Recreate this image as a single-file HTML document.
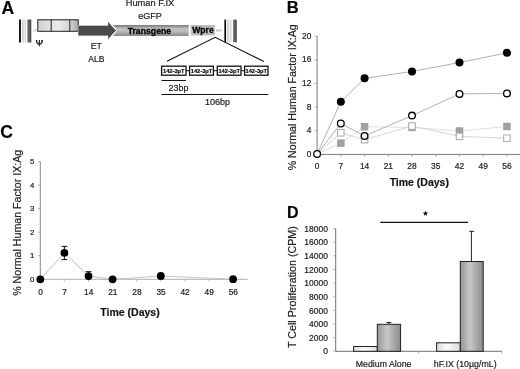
<!DOCTYPE html><html><head><meta charset="utf-8"><style>html,body{margin:0;padding:0;background:#fff;}svg{display:block;filter:grayscale(1);}text{font-family:"Liberation Sans",sans-serif;}text:not([stroke]){stroke:#222;stroke-width:.2px;}</style></head><body>
<svg width="520" height="369" viewBox="0 0 520 369">
<defs>
<linearGradient id="ltrL" x1="0" y1="0" x2="1" y2="0"><stop offset="0" stop-color="#c2c2c2"/><stop offset="0.55" stop-color="#ececec"/><stop offset="1" stop-color="#d4d4d4"/></linearGradient>
<linearGradient id="ltrD" x1="0" y1="0" x2="1" y2="0"><stop offset="0" stop-color="#8a8a8a"/><stop offset="0.45" stop-color="#606060"/><stop offset="1" stop-color="#474747"/></linearGradient>
<linearGradient id="box" x1="0" y1="0" x2="1" y2="0"><stop offset="0" stop-color="#d2d2d2"/><stop offset="0.5" stop-color="#e9e9e9"/><stop offset="0.8" stop-color="#d4d4d4"/><stop offset="1" stop-color="#a8a8a8"/></linearGradient>
<linearGradient id="tg" x1="0" y1="0" x2="0" y2="1"><stop offset="0" stop-color="#7a7a7a"/><stop offset="0.35" stop-color="#c4c4c4"/><stop offset="0.6" stop-color="#b8b8b8"/><stop offset="1" stop-color="#888"/></linearGradient>
<linearGradient id="wp" x1="0" y1="0" x2="0" y2="1"><stop offset="0" stop-color="#b0b0b0"/><stop offset="0.5" stop-color="#cfcfcf"/><stop offset="1" stop-color="#b5b5b5"/></linearGradient>
<linearGradient id="barG" x1="0" y1="0" x2="1" y2="0"><stop offset="0" stop-color="#959595"/><stop offset="0.42" stop-color="#c8c8c8"/><stop offset="1" stop-color="#8a8a8a"/></linearGradient>
<linearGradient id="barW" x1="0" y1="0" x2="1" y2="0"><stop offset="0" stop-color="#d8d8d8"/><stop offset="0.4" stop-color="#fbfbfb"/><stop offset="1" stop-color="#dcdcdc"/></linearGradient>
</defs>
<text x="1.5" y="13.8" font-size="17.5" font-weight="bold" fill="#000">A</text>
<rect x="19.1" y="19.5" width="1.8" height="23" fill="#000"/>
<rect x="22.2" y="19.5" width="3.8" height="23" fill="url(#ltrL)"/>
<rect x="27.2" y="19.5" width="4.1" height="23" fill="url(#ltrD)"/>
<rect x="33.3" y="29" width="3.5" height="2.8" fill="#ddd"/>
<rect x="37.8" y="19.8" width="40.5" height="11.5" fill="url(#box)" stroke="#222" stroke-width="1"/>
<line x1="51.2" y1="19.8" x2="51.2" y2="31.3" stroke="#222" stroke-width="1"/>
<line x1="69.8" y1="19.8" x2="69.8" y2="31.3" stroke="#222" stroke-width="1"/>
<polygon points="113.2,25.1 188.7,25.1 188.7,35.9 113.2,35.9 116.6,30.5" fill="url(#tg)"/>
<polygon points="78.3,25.7 107.6,25.7 107.6,20.8 116.4,30.5 107.6,40.3 107.6,35.6 78.3,35.6" fill="#4a4a4a" stroke="#fff" stroke-width="1" stroke-linejoin="miter"/>
<rect x="78.3" y="25.7" width="29.2" height="9.9" fill="#4a4a4a"/>
<text x="149.4" y="33.6" font-size="8.7" font-weight="bold" text-anchor="middle" fill="#000" stroke="#000" stroke-width="0.3">Transgene</text>
<rect x="190.5" y="25.2" width="24.5" height="10.2" fill="url(#wp)"/>
<text x="203" y="32.8" font-size="8.6" font-weight="bold" text-anchor="middle" fill="#000" stroke="#000" stroke-width="0.3">Wpre</text>
<rect x="215.8" y="29.2" width="6.1" height="2.5" fill="#d4d4d4"/>
<rect x="224.4" y="19.6" width="1.6" height="22.6" fill="#000"/>
<rect x="226.8" y="19.6" width="4.7" height="22.6" fill="url(#ltrL)"/>
<rect x="233" y="19.6" width="3.8" height="22.6" fill="url(#ltrD)"/>
<text x="150" y="6.4" font-size="9.3" text-anchor="middle" fill="#222">Human F.IX</text>
<text x="150" y="19.4" font-size="9" text-anchor="middle" fill="#222">eGFP</text>
<text x="96.2" y="49.2" font-size="8.6" text-anchor="middle" fill="#222">ET</text>
<text x="96.3" y="62.3" font-size="8.6" text-anchor="middle" fill="#222">ALB</text>
<path d="M36.4,40.2 C36.4,43.4 37.6,44.1 39.35,44.1 C41.1,44.1 42.3,43.4 42.3,40.2 M39.35,39.9 L39.35,46.3" stroke="#1a1a1a" stroke-width="1.15" fill="none"/>
<ellipse cx="36.7" cy="41" rx="0.75" ry="1.1" fill="#1a1a1a"/><ellipse cx="42" cy="41" rx="0.75" ry="1.1" fill="#1a1a1a"/>
<polyline points="167,61.3 215.2,37.3 263.8,61.5" fill="none" stroke="#111" stroke-width="1.1"/>
<rect x="161.6" y="66.2" width="24.4" height="9" fill="#fff" stroke="#111" stroke-width="1.3"/>
<text x="173.8" y="73.4" font-size="5.7" font-weight="bold" text-anchor="middle" fill="#000" stroke="#000" stroke-width="0.15">142-3pT</text>
<line x1="186" y1="70.7" x2="189.6" y2="70.7" stroke="#111" stroke-width="1"/>
<rect x="189.6" y="66.2" width="23.8" height="9" fill="#fff" stroke="#111" stroke-width="1.3"/>
<text x="201.5" y="73.4" font-size="5.7" font-weight="bold" text-anchor="middle" fill="#000" stroke="#000" stroke-width="0.15">142-3pT</text>
<line x1="213.4" y1="70.7" x2="217.3" y2="70.7" stroke="#111" stroke-width="1"/>
<rect x="217.3" y="66.2" width="23.7" height="9" fill="#fff" stroke="#111" stroke-width="1.3"/>
<text x="229.2" y="73.4" font-size="5.7" font-weight="bold" text-anchor="middle" fill="#000" stroke="#000" stroke-width="0.15">142-3pT</text>
<line x1="241" y1="70.7" x2="244.6" y2="70.7" stroke="#111" stroke-width="1"/>
<rect x="244.6" y="66.2" width="23.4" height="9" fill="#fff" stroke="#111" stroke-width="1.3"/>
<text x="256.3" y="73.4" font-size="5.7" font-weight="bold" text-anchor="middle" fill="#000" stroke="#000" stroke-width="0.15">142-3pT</text>
<line x1="161.5" y1="80.5" x2="186" y2="80.5" stroke="#111" stroke-width="1"/>
<text x="178.5" y="90.6" font-size="9" text-anchor="middle" fill="#222">23bp</text>
<line x1="161.5" y1="94.5" x2="268.3" y2="94.5" stroke="#111" stroke-width="1"/>
<text x="217.5" y="105" font-size="9" text-anchor="middle" fill="#222">106bp</text>
<text x="286.8" y="12.9" font-size="16.6" font-weight="bold" fill="#000">B</text>
<line x1="317.1" y1="36" x2="317.1" y2="154.4" stroke="#777" stroke-width="1"/>
<line x1="317.1" y1="154.4" x2="520" y2="154.4" stroke="#777" stroke-width="1"/>
<line x1="314.5" y1="154.40" x2="317.1" y2="154.40" stroke="#999" stroke-width="0.8"/>
<text x="311.3" y="156.80" font-size="8.3" text-anchor="end" fill="#222">0</text>
<line x1="314.5" y1="130.76" x2="317.1" y2="130.76" stroke="#999" stroke-width="0.8"/>
<text x="311.3" y="133.16" font-size="8.3" text-anchor="end" fill="#222">4</text>
<line x1="314.5" y1="107.12" x2="317.1" y2="107.12" stroke="#999" stroke-width="0.8"/>
<text x="311.3" y="109.52" font-size="8.3" text-anchor="end" fill="#222">8</text>
<line x1="314.5" y1="83.48" x2="317.1" y2="83.48" stroke="#999" stroke-width="0.8"/>
<text x="311.3" y="85.88" font-size="8.3" text-anchor="end" fill="#222">12</text>
<line x1="314.5" y1="59.84" x2="317.1" y2="59.84" stroke="#999" stroke-width="0.8"/>
<text x="311.3" y="62.24" font-size="8.3" text-anchor="end" fill="#222">16</text>
<line x1="314.5" y1="36.20" x2="317.1" y2="36.20" stroke="#999" stroke-width="0.8"/>
<text x="311.3" y="38.60" font-size="8.3" text-anchor="end" fill="#222">20</text>
<line x1="317.10" y1="154.4" x2="317.10" y2="156.8" stroke="#999" stroke-width="0.8"/>
<text x="317.10" y="169.2" font-size="8.4" text-anchor="middle" fill="#222">0</text>
<line x1="340.83" y1="154.4" x2="340.83" y2="156.8" stroke="#999" stroke-width="0.8"/>
<text x="340.83" y="169.2" font-size="8.4" text-anchor="middle" fill="#222">7</text>
<line x1="364.56" y1="154.4" x2="364.56" y2="156.8" stroke="#999" stroke-width="0.8"/>
<text x="364.56" y="169.2" font-size="8.4" text-anchor="middle" fill="#222">14</text>
<line x1="388.29" y1="154.4" x2="388.29" y2="156.8" stroke="#999" stroke-width="0.8"/>
<text x="388.29" y="169.2" font-size="8.4" text-anchor="middle" fill="#222">21</text>
<line x1="412.02" y1="154.4" x2="412.02" y2="156.8" stroke="#999" stroke-width="0.8"/>
<text x="412.02" y="169.2" font-size="8.4" text-anchor="middle" fill="#222">28</text>
<line x1="435.75" y1="154.4" x2="435.75" y2="156.8" stroke="#999" stroke-width="0.8"/>
<text x="435.75" y="169.2" font-size="8.4" text-anchor="middle" fill="#222">35</text>
<line x1="459.48" y1="154.4" x2="459.48" y2="156.8" stroke="#999" stroke-width="0.8"/>
<text x="459.48" y="169.2" font-size="8.4" text-anchor="middle" fill="#222">42</text>
<line x1="483.21" y1="154.4" x2="483.21" y2="156.8" stroke="#999" stroke-width="0.8"/>
<text x="483.21" y="169.2" font-size="8.4" text-anchor="middle" fill="#222">49</text>
<line x1="506.94" y1="154.4" x2="506.94" y2="156.8" stroke="#999" stroke-width="0.8"/>
<text x="506.94" y="169.2" font-size="8.4" text-anchor="middle" fill="#222">56</text>
<text x="419.3" y="185.6" font-size="10.5" font-weight="bold" text-anchor="middle" fill="#111">Time (Days)</text>
<text transform="translate(295.9,97.3) rotate(-90)" x="0" y="0" font-size="10.65" text-anchor="middle" fill="#222">% Normal Human Factor IX:Ag</text>
<polyline points="317.10,154.00 340.83,143.15 364.56,126.75 412.02,127.40 459.48,131.00 506.94,126.50" fill="none" stroke="#dedede" stroke-width="1"/>
<polyline points="317.10,154.00 340.83,132.85 364.56,139.70 412.02,126.05 459.48,136.40 506.94,138.20" fill="none" stroke="#d6d6d6" stroke-width="1"/>
<polyline points="317.10,154.00 340.83,123.55 364.56,136.00 412.02,115.60 459.48,93.90 506.94,93.40" fill="none" stroke="#b2b2b2" stroke-width="1"/>
<polyline points="317.10,154.00 340.83,101.85 364.56,78.30 412.02,71.50 459.48,62.50 506.94,52.85" fill="none" stroke="#b0b0b0" stroke-width="1"/>
<rect x="337.08" y="139.40" width="7.5" height="7.5" fill="#a0a0a0"/>
<rect x="360.81" y="123.00" width="7.5" height="7.5" fill="#a0a0a0"/>
<rect x="408.27" y="123.65" width="7.5" height="7.5" fill="#a0a0a0"/>
<rect x="455.73" y="127.25" width="7.5" height="7.5" fill="#a0a0a0"/>
<rect x="503.19" y="122.75" width="7.5" height="7.5" fill="#a0a0a0"/>
<rect x="337.58" y="129.60" width="6.5" height="6.5" fill="#fff" stroke="#a8a8a8" stroke-width="1"/>
<rect x="361.31" y="136.45" width="6.5" height="6.5" fill="#fff" stroke="#a8a8a8" stroke-width="1"/>
<rect x="408.77" y="122.80" width="6.5" height="6.5" fill="#fff" stroke="#a8a8a8" stroke-width="1"/>
<rect x="456.23" y="133.15" width="6.5" height="6.5" fill="#fff" stroke="#a8a8a8" stroke-width="1"/>
<rect x="503.69" y="134.95" width="6.5" height="6.5" fill="#fff" stroke="#a8a8a8" stroke-width="1"/>
<circle cx="340.83" cy="101.85" r="4" fill="#000"/>
<circle cx="364.56" cy="78.30" r="4" fill="#000"/>
<circle cx="412.02" cy="71.50" r="4" fill="#000"/>
<circle cx="459.48" cy="62.50" r="4" fill="#000"/>
<circle cx="506.94" cy="52.85" r="4" fill="#000"/>
<circle cx="317.10" cy="154.00" r="3.35" fill="#fff" stroke="#000" stroke-width="1.3"/>
<circle cx="340.83" cy="123.55" r="3.35" fill="#fff" stroke="#000" stroke-width="1.3"/>
<circle cx="364.56" cy="136.00" r="3.35" fill="#fff" stroke="#000" stroke-width="1.3"/>
<circle cx="412.02" cy="115.60" r="3.35" fill="#fff" stroke="#000" stroke-width="1.3"/>
<circle cx="459.48" cy="93.90" r="3.35" fill="#fff" stroke="#000" stroke-width="1.3"/>
<circle cx="506.94" cy="93.40" r="3.35" fill="#fff" stroke="#000" stroke-width="1.3"/>
<text x="0.3" y="138" font-size="17.5" font-weight="bold" fill="#000">C</text>
<line x1="40.3" y1="161.5" x2="40.3" y2="279.3" stroke="#888" stroke-width="1"/>
<line x1="40.3" y1="279.3" x2="247.6" y2="279.3" stroke="#b0b0b0" stroke-width="1"/>
<line x1="38.1" y1="279.20" x2="40.3" y2="279.20" stroke="#999" stroke-width="0.8"/>
<text x="34.3" y="281.90" font-size="7.8" text-anchor="end" fill="#222">0</text>
<line x1="38.1" y1="255.70" x2="40.3" y2="255.70" stroke="#999" stroke-width="0.8"/>
<text x="34.3" y="258.40" font-size="7.8" text-anchor="end" fill="#222">1</text>
<line x1="38.1" y1="232.20" x2="40.3" y2="232.20" stroke="#999" stroke-width="0.8"/>
<text x="34.3" y="234.90" font-size="7.8" text-anchor="end" fill="#222">2</text>
<line x1="38.1" y1="208.70" x2="40.3" y2="208.70" stroke="#999" stroke-width="0.8"/>
<text x="34.3" y="211.40" font-size="7.8" text-anchor="end" fill="#222">3</text>
<line x1="38.1" y1="185.20" x2="40.3" y2="185.20" stroke="#999" stroke-width="0.8"/>
<text x="34.3" y="187.90" font-size="7.8" text-anchor="end" fill="#222">4</text>
<line x1="38.1" y1="161.70" x2="40.3" y2="161.70" stroke="#999" stroke-width="0.8"/>
<text x="34.3" y="164.40" font-size="7.8" text-anchor="end" fill="#222">5</text>
<line x1="40.30" y1="279.3" x2="40.30" y2="281.6" stroke="#aaa" stroke-width="0.8"/>
<text x="40.50" y="294.7" font-size="8.3" text-anchor="middle" fill="#222">0</text>
<line x1="64.40" y1="279.3" x2="64.40" y2="281.6" stroke="#aaa" stroke-width="0.8"/>
<text x="64.60" y="294.7" font-size="8.3" text-anchor="middle" fill="#222">7</text>
<line x1="88.50" y1="279.3" x2="88.50" y2="281.6" stroke="#aaa" stroke-width="0.8"/>
<text x="88.70" y="294.7" font-size="8.3" text-anchor="middle" fill="#222">14</text>
<line x1="112.60" y1="279.3" x2="112.60" y2="281.6" stroke="#aaa" stroke-width="0.8"/>
<text x="112.80" y="294.7" font-size="8.3" text-anchor="middle" fill="#222">21</text>
<line x1="136.70" y1="279.3" x2="136.70" y2="281.6" stroke="#aaa" stroke-width="0.8"/>
<text x="136.90" y="294.7" font-size="8.3" text-anchor="middle" fill="#222">28</text>
<line x1="160.81" y1="279.3" x2="160.81" y2="281.6" stroke="#aaa" stroke-width="0.8"/>
<text x="161.00" y="294.7" font-size="8.3" text-anchor="middle" fill="#222">35</text>
<line x1="184.91" y1="279.3" x2="184.91" y2="281.6" stroke="#aaa" stroke-width="0.8"/>
<text x="185.11" y="294.7" font-size="8.3" text-anchor="middle" fill="#222">42</text>
<line x1="209.01" y1="279.3" x2="209.01" y2="281.6" stroke="#aaa" stroke-width="0.8"/>
<text x="209.21" y="294.7" font-size="8.3" text-anchor="middle" fill="#222">49</text>
<line x1="233.11" y1="279.3" x2="233.11" y2="281.6" stroke="#aaa" stroke-width="0.8"/>
<text x="233.31" y="294.7" font-size="8.3" text-anchor="middle" fill="#222">56</text>
<text x="130" y="315.5" font-size="10.5" font-weight="bold" text-anchor="middle" fill="#111">Time (Days)</text>
<text transform="translate(20.7,222.8) rotate(-90)" x="0" y="0" font-size="10.65" text-anchor="middle" fill="#222">% Normal Human Factor IX:Ag</text>
<polyline points="40.30,279.30 64.40,252.85 88.50,276.10 112.60,279.30 160.81,276.00 233.11,279.20" fill="none" stroke="#c4c4c4" stroke-width="1"/>
<circle cx="40.30" cy="279.30" r="3.9" fill="#000"/>
<line x1="64.40" y1="246.4" x2="64.40" y2="259.6" stroke="#111" stroke-width="1"/>
<line x1="61.50" y1="246.4" x2="67.30" y2="246.4" stroke="#111" stroke-width="1"/>
<line x1="61.50" y1="259.6" x2="67.30" y2="259.6" stroke="#111" stroke-width="1"/>
<circle cx="64.40" cy="252.85" r="3.9" fill="#000"/>
<line x1="88.50" y1="271.7" x2="88.50" y2="276.1" stroke="#111" stroke-width="1"/>
<line x1="85.60" y1="271.7" x2="91.40" y2="271.7" stroke="#111" stroke-width="1"/>
<line x1="85.60" y1="276.1" x2="91.40" y2="276.1" stroke="#111" stroke-width="1"/>
<circle cx="88.50" cy="276.10" r="3.9" fill="#000"/>
<circle cx="112.60" cy="279.30" r="3.9" fill="#000"/>
<line x1="160.81" y1="273.4" x2="160.81" y2="278.6" stroke="#111" stroke-width="1"/>
<line x1="157.91" y1="273.4" x2="163.71" y2="273.4" stroke="#111" stroke-width="1"/>
<line x1="157.91" y1="278.6" x2="163.71" y2="278.6" stroke="#111" stroke-width="1"/>
<circle cx="160.81" cy="276.00" r="3.9" fill="#000"/>
<circle cx="233.11" cy="279.20" r="3.9" fill="#000"/>
<text x="287" y="217.6" font-size="16" font-weight="bold" fill="#000">D</text>
<line x1="335.7" y1="228.3" x2="335.7" y2="351.3" stroke="#707070" stroke-width="1"/>
<line x1="335.7" y1="351.3" x2="502" y2="351.3" stroke="#707070" stroke-width="1"/>
<line x1="333.3" y1="351.20" x2="335.7" y2="351.20" stroke="#999" stroke-width="0.8"/>
<text x="328" y="354.40" font-size="8.5" text-anchor="end" fill="#222">0</text>
<line x1="333.3" y1="337.58" x2="335.7" y2="337.58" stroke="#999" stroke-width="0.8"/>
<text x="328" y="340.78" font-size="8.5" text-anchor="end" fill="#222">2000</text>
<line x1="333.3" y1="323.96" x2="335.7" y2="323.96" stroke="#999" stroke-width="0.8"/>
<text x="328" y="327.16" font-size="8.5" text-anchor="end" fill="#222">4000</text>
<line x1="333.3" y1="310.34" x2="335.7" y2="310.34" stroke="#999" stroke-width="0.8"/>
<text x="328" y="313.54" font-size="8.5" text-anchor="end" fill="#222">6000</text>
<line x1="333.3" y1="296.72" x2="335.7" y2="296.72" stroke="#999" stroke-width="0.8"/>
<text x="328" y="299.92" font-size="8.5" text-anchor="end" fill="#222">8000</text>
<line x1="333.3" y1="283.10" x2="335.7" y2="283.10" stroke="#999" stroke-width="0.8"/>
<text x="328" y="286.30" font-size="8.5" text-anchor="end" fill="#222">10000</text>
<line x1="333.3" y1="269.48" x2="335.7" y2="269.48" stroke="#999" stroke-width="0.8"/>
<text x="328" y="272.68" font-size="8.5" text-anchor="end" fill="#222">12000</text>
<line x1="333.3" y1="255.86" x2="335.7" y2="255.86" stroke="#999" stroke-width="0.8"/>
<text x="328" y="259.06" font-size="8.5" text-anchor="end" fill="#222">14000</text>
<line x1="333.3" y1="242.24" x2="335.7" y2="242.24" stroke="#999" stroke-width="0.8"/>
<text x="328" y="245.44" font-size="8.5" text-anchor="end" fill="#222">16000</text>
<line x1="333.3" y1="228.62" x2="335.7" y2="228.62" stroke="#999" stroke-width="0.8"/>
<text x="328" y="231.82" font-size="8.5" text-anchor="end" fill="#222">18000</text>
<line x1="418.6" y1="351.3" x2="418.6" y2="353.6" stroke="#999" stroke-width="0.8"/>
<line x1="501.8" y1="351.3" x2="501.8" y2="353.6" stroke="#999" stroke-width="0.8"/>
<text transform="translate(295.8,287.1) rotate(-90)" x="0" y="0" font-size="10.72" text-anchor="middle" fill="#222">T Cell Proliferation (CPM)</text>
<rect x="353.6" y="346.5" width="23.70" height="4.80" fill="url(#barW)" stroke="#222" stroke-width="1"/>
<rect x="377.3" y="324.3" width="23.30" height="27.00" fill="url(#barG)" stroke="#222" stroke-width="1"/>
<rect x="436.6" y="342.8" width="23.70" height="8.50" fill="url(#barW)" stroke="#222" stroke-width="1"/>
<rect x="460.3" y="261.5" width="22.90" height="89.80" fill="url(#barG)" stroke="#222" stroke-width="1"/>
<line x1="388.9" y1="324.3" x2="388.9" y2="322.5" stroke="#222" stroke-width="1"/>
<line x1="386.5" y1="322.5" x2="391.3" y2="322.5" stroke="#222" stroke-width="1"/>
<line x1="471.4" y1="261.5" x2="471.4" y2="231.3" stroke="#222" stroke-width="1"/>
<line x1="469.2" y1="231.3" x2="474.2" y2="231.3" stroke="#222" stroke-width="1"/>
<line x1="380.4" y1="222.4" x2="468.1" y2="222.4" stroke="#111" stroke-width="1.1"/>
<polygon points="425.50,210.60 426.23,212.49 428.26,212.60 426.69,213.89 427.20,215.85 425.50,214.75 423.80,215.85 424.31,213.89 422.74,212.60 424.77,212.49" fill="#111"/>
<text x="383.6" y="366.8" font-size="8.8" text-anchor="middle" fill="#222">Medium Alone</text>
<text x="465.2" y="366.8" font-size="8.8" text-anchor="middle" fill="#222">hF.IX (10µg/mL)</text>
</svg></body></html>
